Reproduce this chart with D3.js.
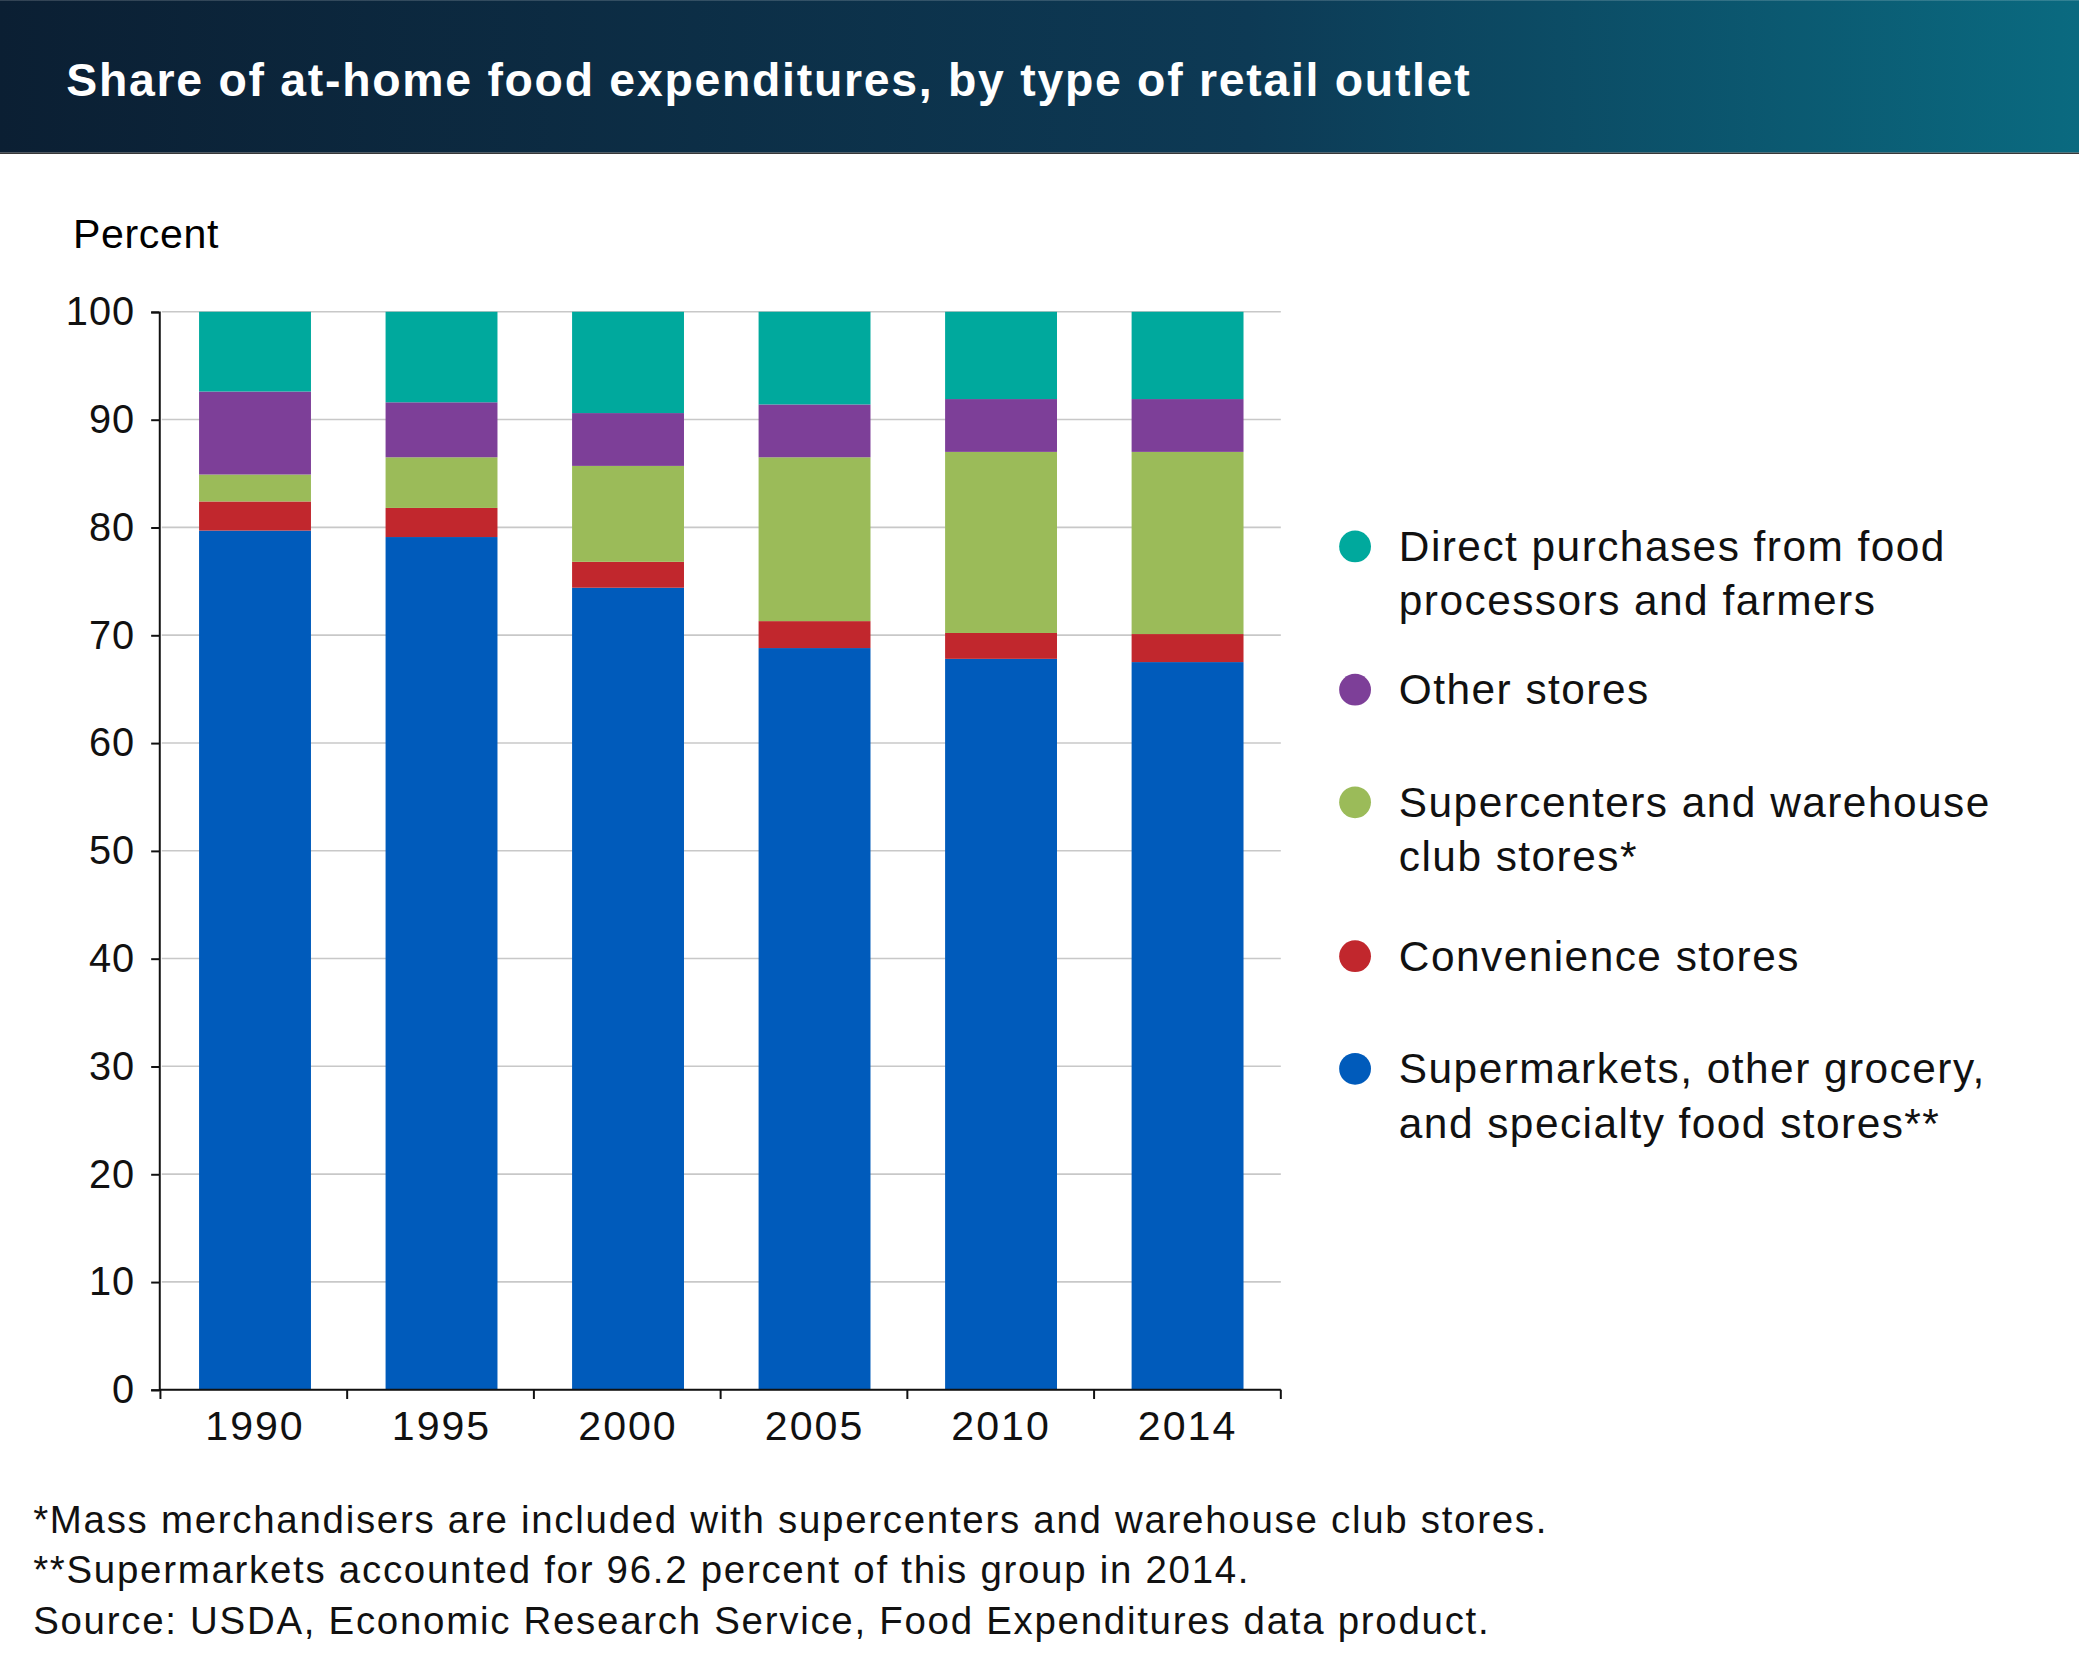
<!DOCTYPE html>
<html><head><meta charset="utf-8">
<script src="https://cdn.jsdelivr.net/npm/d3@7"></script>
<style>body{margin:0;background:#fff}</style>
</head><body>
<script>
// data
var years = ["1990", "1995", "2000", "2005", "2010", "2014"];
var seriesNames = ["Supermarkets, other grocery, and specialty food stores**", "Convenience stores",
  "Supercenters and warehouse club stores*", "Other stores", "Direct purchases from food processors and farmers"];
var supermarkets = [79.7, 79.1, 74.4, 68.8, 67.8, 67.5];
var convenience = [2.7, 2.7, 2.4, 2.5, 2.4, 2.6];
var supercenters = [2.5, 4.7, 8.9, 15.2, 16.8, 16.9];
var otherStores = [7.7, 5.1, 4.9, 4.9, 4.9, 4.9];
var direct = [7.4, 8.4, 9.4, 8.6, 8.1, 8.1];
var yTicks = [0, 10, 20, 30, 40, 50, 60, 70, 80, 90, 100];
var colors = ["#005bbb", "#c1272d", "#9bbb59", "#7d3f98", "#00a99d"];
var legendLines = [["Direct purchases from food", "processors and farmers"], ["Other stores"],
  ["Supercenters and warehouse", "club stores*"], ["Convenience stores"],
  ["Supermarkets, other grocery,", "and specialty food stores**"]];
var notes = ["*Mass merchandisers are included with supercenters and warehouse club stores.",
  "**Supermarkets accounted for 96.2 percent of this group in 2014.",
  "Source: USDA, Economic Research Service, Food Expenditures data product."];

var W = 1568, H = 1254;
var svg = d3.select("body").append("svg")
  .attr("width", 2079).attr("height", 1663)
  .attr("viewBox", "0 0 " + W + " " + H)
  .style("font-family", "Liberation Sans, Arial, sans-serif");

// header
var grad = svg.append("defs").append("linearGradient").attr("id", "hg");
grad.append("stop").attr("offset", "0").attr("stop-color", "#0b1f33");
grad.append("stop").attr("offset", "0.6").attr("stop-color", "#0d3a55");
grad.append("stop").attr("offset", "1").attr("stop-color", "#0a6a80");
svg.append("rect").attr("width", W).attr("height", 115).attr("fill", "url(#hg)");
svg.append("text").attr("x", 50).attr("y", 72).attr("fill", "#fff")
  .attr("font-size", 35).attr("font-weight", "bold").attr("letter-spacing", 1.3)
  .text("Share of at-home food expenditures, by type of retail outlet");
svg.append("rect").attr("x", 0).attr("y", 115).attr("width", W).attr("height", 1).attr("fill", "#333");

var x = d3.scaleBand().domain(years).range([122, 966]).paddingInner(0.4).paddingOuter(0.2);
var y = d3.scaleLinear().domain([0, 100]).range([1048, 235]);

svg.append("text").attr("x", 55).attr("y", 187).attr("font-size", 31).attr("letter-spacing", 0.5).text("Percent");

svg.append("g").selectAll("line").data(yTicks).join("line")
  .attr("x1", 122).attr("x2", 966).attr("y1", d => y(d)).attr("y2", d => y(d))
  .attr("stroke", "#c8c8c8").attr("stroke-width", 1.2);

var rows = years.map((yr, i) => ({year: yr, s0: supermarkets[i], s1: convenience[i],
  s2: supercenters[i], s3: otherStores[i], s4: direct[i]}));
var stack = d3.stack().keys(["s0", "s1", "s2", "s3", "s4"])(rows);
svg.append("g").selectAll("g").data(stack).join("g").attr("fill", (d, i) => colors[i])
  .selectAll("rect").data(d => d).join("rect")
  .attr("x", d => x(d.data.year)).attr("width", x.bandwidth())
  .attr("y", d => y(d[1])).attr("height", d => y(d[0]) - y(d[1]));

var ya = svg.append("g").attr("transform", "translate(120,0)")
  .call(d3.axisLeft(y).tickValues(yTicks).tickSize(6).tickPadding(12));
ya.selectAll("text").attr("font-size", 30).attr("fill", "#111").attr("letter-spacing", 0.8);
ya.select(".domain").attr("stroke", "#111").attr("stroke-width", 1.5);
ya.selectAll(".tick line").attr("stroke", "#111").attr("stroke-width", 1.5);

var xa = svg.append("g").attr("transform", "translate(0,1048)")
  .call(d3.axisBottom(x).tickSize(0).tickPadding(16));
xa.selectAll("text").attr("font-size", 31).attr("fill", "#111").attr("letter-spacing", 1.5);
xa.select(".domain").attr("d", "M120,0H966").attr("stroke", "#111").attr("stroke-width", 1.5);
xa.append("g").selectAll("line").data(d3.range(years.length + 1)).join("line")
  .attr("x1", i => 121 + i * (845 / years.length)).attr("x2", i => 121 + i * (845 / years.length))
  .attr("y1", 0).attr("y2", 7).attr("stroke", "#111").attr("stroke-width", 1.5);

// legend
var legY = [412, 520, 605, 721, 806];
var lg = svg.append("g").selectAll("g").data(legendLines).join("g")
  .attr("transform", (d, i) => "translate(1022," + legY[i] + ")");
lg.append("circle").attr("cx", 0).attr("cy", 0).attr("r", 12).attr("fill", (d, i) => colors[4 - i]);
lg.each(function (d) {
  d3.select(this).selectAll("text").data(d).join("text")
    .attr("x", 33).attr("y", (t, j) => 11 + j * 41).attr("font-size", 32)
    .attr("letter-spacing", 1.1).attr("fill", "#111").text(t => t);
});

svg.append("g").selectAll("text").data(notes).join("text")
  .attr("x", 25).attr("y", (d, i) => 1156 + i * 38).attr("font-size", 29)
  .attr("letter-spacing", 1.3).attr("fill", "#111").text(d => d);
</script>
</body></html>
